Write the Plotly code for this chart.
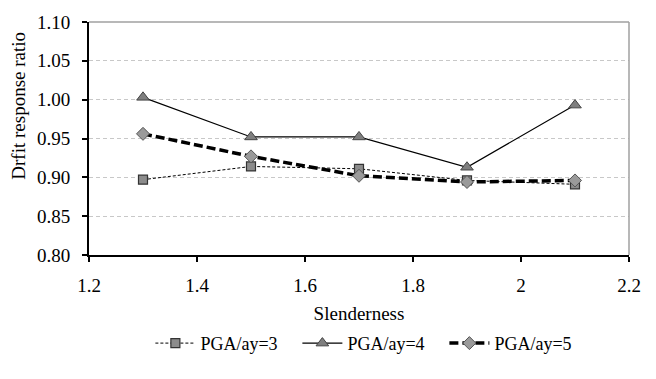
import plotly.graph_objects as go

slenderness = [1.3, 1.5, 1.7, 1.9, 2.1]
pga3 = [0.897, 0.914, 0.911, 0.896, 0.891]
pga4 = [1.003, 0.952, 0.952, 0.913, 0.993]
pga5 = [0.956, 0.927, 0.902, 0.894, 0.896]

y_ticks = [0.80, 0.85, 0.90, 0.95, 1.00, 1.05, 1.10]
x_ticks = [1.2, 1.4, 1.6, 1.8, 2.0, 2.2]
x_tick_text = ["1.2", "1.4", "1.6", "1.8", "2", "2.2"]

FONT = "Liberation Serif, Times New Roman, serif"

fig = go.Figure()
fig.add_trace(go.Scatter(
    x=slenderness, y=pga3, name="PGA/ay=3", mode="lines+markers",
    line=dict(color="black", width=1, dash="3px,2px"),
    marker=dict(symbol="square", size=9, color="#8c8c8c",
                line=dict(color="#333333", width=1.2)),
))
fig.add_trace(go.Scatter(
    x=slenderness, y=pga4, name="PGA/ay=4", mode="lines+markers",
    line=dict(color="black", width=1.2),
    marker=dict(symbol="triangle-up", size=11, color="#7f7f7f",
                line=dict(color="#444444", width=1)),
))
fig.add_trace(go.Scatter(
    x=slenderness, y=pga5, name="PGA/ay=5", mode="lines+markers",
    line=dict(color="black", width=3.5, dash="9px,4px"),
    marker=dict(symbol="diamond", size=10, color="#9a9a9a",
                line=dict(color="#555555", width=1)),
))

fig.update_layout(
    width=656, height=379,
    margin=dict(l=89, r=27, t=14, b=124),
    paper_bgcolor="white", plot_bgcolor="white",
    font=dict(family=FONT, size=19, color="black"),
    showlegend=True,
    legend=dict(orientation="h", x=0.522, xanchor="center", y=-0.30, yanchor="top",
                font=dict(family=FONT, size=18), itemwidth=40,
                entrywidth=92, entrywidthmode="pixels",
                tracegroupgap=0, bgcolor="rgba(0,0,0,0)"),
    xaxis=dict(
        range=[1.2, 2.2], tickvals=x_ticks, ticktext=x_tick_text,
        showgrid=False, zeroline=False,
        showline=True, linecolor="black", linewidth=2,
        ticks="outside", ticklen=5, tickcolor="black", tickwidth=1.5,
        ticklabelstandoff=7,
        tickfont=dict(family=FONT, size=19),
        title=dict(text="Slenderness", font=dict(family=FONT, size=19), standoff=12),
        mirror=False,
    ),
    yaxis=dict(
        range=[0.80, 1.10], tickvals=y_ticks, tickformat=".2f",
        showgrid=True, gridcolor="#c8c8c8", griddash="4px,3px", gridwidth=1,
        zeroline=False,
        showline=True, linecolor="black", linewidth=2,
        ticks="outside", ticklen=5, tickcolor="black", tickwidth=1.5,
        ticklabelstandoff=8,
        tickfont=dict(family=FONT, size=19),
    ),
    annotations=[
        dict(text="Drfit response ratio", textangle=-90, showarrow=False,
             xref="paper", yref="paper", x=-0.13, y=0.64,
             xanchor="center", yanchor="middle",
             font=dict(family=FONT, size=19, color="black")),
    ],
    shapes=[
        dict(type="line", xref="paper", yref="paper", x0=0, x1=1, y0=1, y1=1,
             line=dict(color="#a0a0a0", width=1.5)),
        dict(type="line", xref="paper", yref="paper", x0=1, x1=1, y0=0, y1=1,
             line=dict(color="#a0a0a0", width=1.5)),
    ],
)

fig.write_html("out.html")
